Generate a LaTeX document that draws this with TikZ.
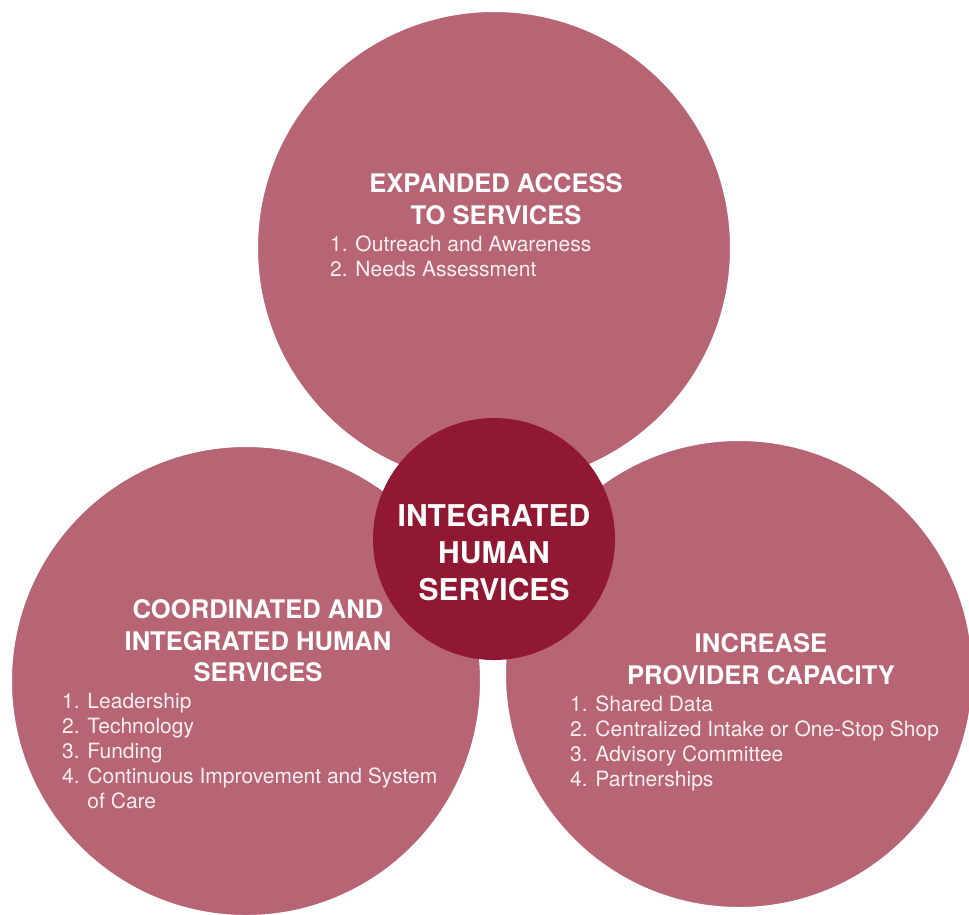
\documentclass[tikz,border=0pt]{standalone}
\usepackage{fontspec}
\setmainfont{TeX Gyre Heros}
\usepackage{tikz}
\definecolor{petalpink}{RGB}{183,100,117}
\definecolor{hubred}{RGB}{145,24,51}

\begin{document}
\begin{tikzpicture}
        [x=1pt,y=-1pt]
            \tikzstyle{petal}=[circle, fill=petalpink, draw=white,
        line width=9pt, inner sep=0pt]
            \tikzstyle{hub}=[circle, fill=hubred, inner sep=0pt,
        minimum size=242pt]
            \tikzstyle{head}=[text=white, align=center, inner sep=0pt,
        font=\fontsize{25.6}{31.5}\selectfont\bfseries]
            \tikzstyle{items}=[text=white!90!petalpink, align=left, inner sep=0pt,
        anchor=base west, font=\fontsize{21}{24.8}\selectfont]
        \useasboundingbox (0,0) rectangle (969,914);
        \clip (0,0) rectangle (969,914);
        %-----circles
         \node[petal, minimum size=481pt] (access) at (494,248) {};
         \node[petal, minimum size=477pt] (coord) at (246,681) {};
         \node[petal, minimum size=475pt] (capacity) at (739,674) {};
         \node[hub] (ihs) at (494,539) {};
        %-----centre
         \node[head, font=\fontsize{30}{37}\selectfont\bfseries] (ihs-text) at (494,553)
           {INTEGRATED\\HUMAN\\SERVICES};
        %-----top (list anchored at baseline of its last line)
         \node[head] (access-head) at (496,199) {EXPANDED ACCESS\\TO SERVICES};
         \node[items] (access-list) at (330,276)
           {1. Outreach and Awareness\\2. Needs Assessment};
        %-----left
         \node[head] (coord-head) at (258,641)
           {COORDINATED AND\\INTEGRATED HUMAN\\SERVICES};
         \node[items] (coord-list) at (62,808)
           {1. Leadership\\2. Technology\\3. Funding\\
            4. Continuous Improvement and System\\\hphantom{4. }of Care};
        %-----right
         \node[head] (capacity-head) at (761,659)
           {INCREASE\\PROVIDER CAPACITY};
         \node[items] (capacity-list) at (570,786)
           {1. Shared Data\\2. Centralized Intake or One-Stop Shop\\
            3. Advisory Committee\\4. Partnerships};
        \end{tikzpicture}
\end{document}
